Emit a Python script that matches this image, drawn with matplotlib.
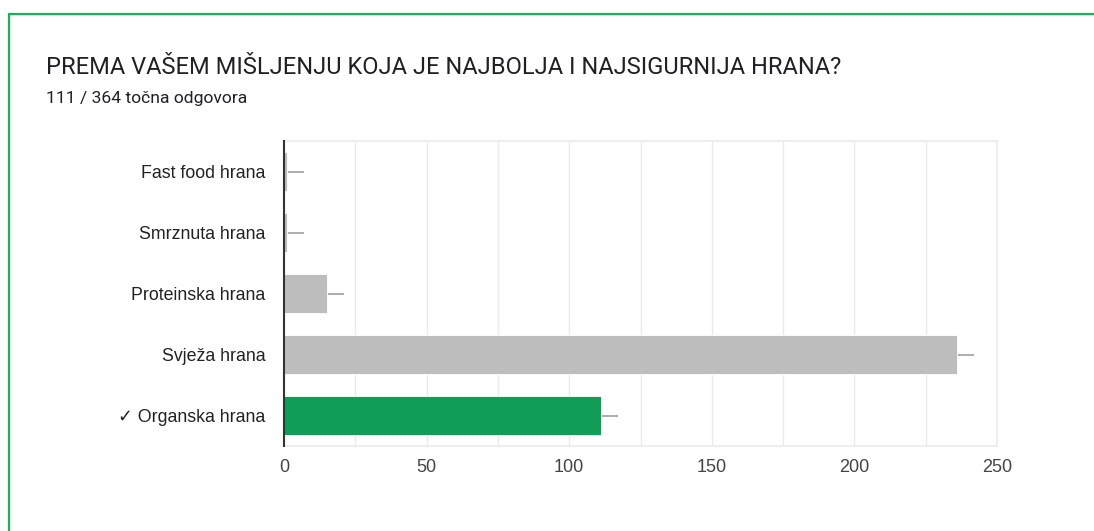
import matplotlib
matplotlib.use("Agg")
import matplotlib.pyplot as plt
from matplotlib.patches import Rectangle

title = "PREMA VAŠEM MIŠLJENJU KOJA JE NAJBOLJA I NAJSIGURNIJA HRANA?"
subtitle = "111 / 364 točna odgovora"
categories = ["Fast food hrana", "Smrznuta hrana", "Proteinska hrana",
              "Svježa hrana", "✓ Organska hrana"]
values = [1, 1, 15, 236, 111]
correct = [False, False, False, False, True]
xticks = [0, 50, 100, 150, 200, 250]

plt.rcParams['font.family'] = ['Liberation Sans', 'DejaVu Sans']

fig = plt.figure(figsize=(10.94, 5.31), dpi=100)

# green card border
fig.patches.append(Rectangle((9 / 1094, -0.1), 1.2, (531 - 14) / 531 + 0.1,
                             transform=fig.transFigure, fill=False,
                             edgecolor='#17b35a', linewidth=1.6))

fig.text(46 / 1094, 1 - 68 / 531, title, fontsize=17, family=['Roboto'],
         color='#202124', va='center', ha='left')
fig.text(46 / 1094, 1 - 99 / 531, subtitle, fontsize=12.6, family=['Roboto'],
         color='#202124', va='center', ha='left')

ax = fig.add_axes([284 / 1094, 85 / 531, 713 / 1094, 305 / 531])
ypos = list(range(len(categories)))
colors = ['#0f9d58' if c else '#bdbdbd' for c in correct]
ax.barh(ypos, values, height=0.65, color=colors, edgecolor='white',
        linewidth=0.6, zorder=3)
# small leader lines to the right of each bar
ax.hlines(ypos, values, [v + 6 for v in values], color='#9e9e9e',
          linewidth=1.2, zorder=2)

ax.set_xlim(0, 250)
ax.set_ylim(len(categories) - 0.5, -0.5)
ax.set_yticks(ypos)
ax.set_yticklabels(categories, fontsize=12.8, color='#222222')
ax.set_xticks(xticks)
ax.set_xticks(range(0, 251, 25), minor=True)
ax.tick_params(axis='x', which='both', length=0, pad=9, labelsize=13,
               labelcolor='#444444')
ax.tick_params(axis='y', length=0, pad=13.5)
ax.grid(axis='x', which='both', color='#ebebeb', linewidth=1, zorder=0)

for s in ['top', 'right', 'bottom']:
    ax.spines[s].set_color('#ebebeb')
    ax.spines[s].set_linewidth(1.2)
ax.spines['left'].set_color('#333333')
ax.spines['left'].set_linewidth(1.5)
ax.spines['left'].set_zorder(5)

fig.savefig('out.png', dpi=100)
